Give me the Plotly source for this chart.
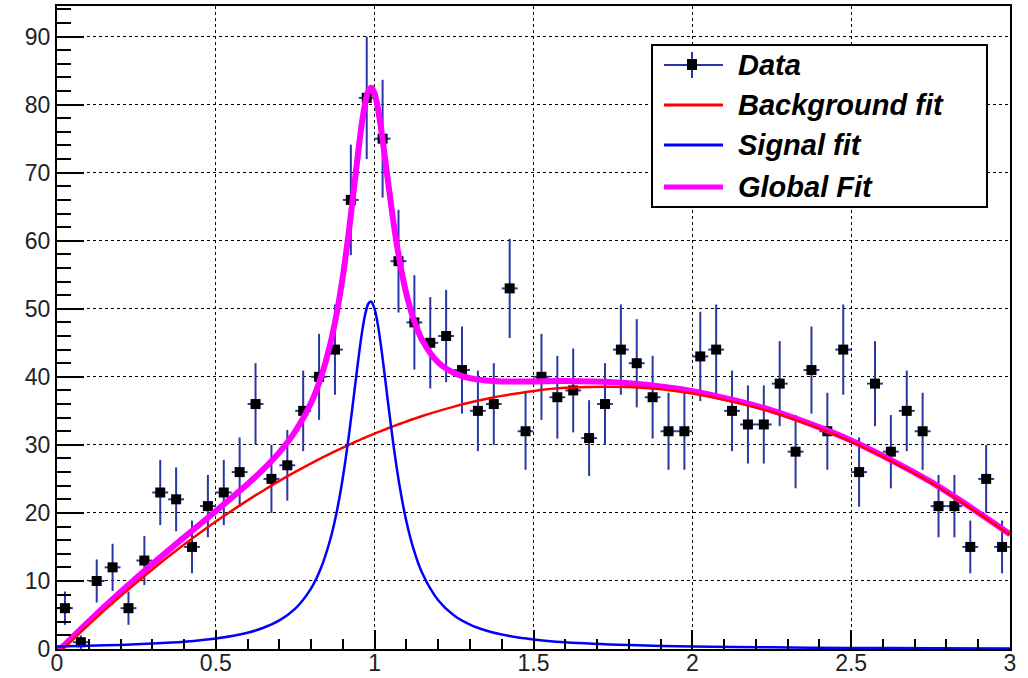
import plotly.graph_objects as go

# ---------------- data ----------------
bin_centers = [0.025 + 0.05 * i for i in range(60)]
counts = [6, 1, 10, 12, 6, 13, 23, 22, 15, 21,
          23, 26, 36, 25, 27, 35, 40, 44, 66, 81,
          75, 57, 48, 45, 46, 41, 35, 36, 53, 32,
          40, 37, 38, 31, 36, 44, 42, 37, 32, 32,
          43, 44, 35, 33, 33, 39, 29, 41, 32, 44,
          26, 39, 29, 35, 32, 21, 21, 15, 25, 15]
count_err = [c ** 0.5 for c in counts]
half_bin = [0.025] * 60

# fit curves
curve_x = [0, 0.1, 0.2, 0.3, 0.4, 0.5, 0.6, 0.65, 0.7, 0.75, 0.8, 0.83, 0.86, 0.88,
           0.90, 0.92, 0.94, 0.95, 0.96, 0.97, 0.98, 0.987, 0.99, 1.00, 1.01, 1.02,
           1.03, 1.04, 1.06, 1.08, 1.10, 1.12, 1.15, 1.2, 1.25, 1.3, 1.35, 1.4, 1.5,
           1.6, 1.8, 2.0, 2.25, 2.5, 2.75, 3.0]
background_fit = [-0.87, 3.59, 7.77, 11.69, 15.34, 18.73, 21.84, 23.30, 24.70, 26.02,
                  27.28, 28.01, 28.71, 29.16, 29.60, 30.03, 30.46, 30.66, 30.87, 31.07,
                  31.27, 31.40, 31.46, 31.66, 31.85, 32.03, 32.22, 32.40, 32.76, 33.11,
                  33.44, 33.77, 34.24, 34.96, 35.62, 36.22, 36.74, 37.20, 37.93, 38.38,
                  38.49, 37.54, 34.84, 30.49, 24.47, 16.78]
signal_fit = [0.38, 0.48, 0.60, 0.79, 1.07, 1.55, 2.40, 3.12, 4.21, 5.94,
              8.92, 11.79, 16.06, 20.04, 25.24, 31.79, 39.33, 43.10, 46.49, 49.16,
              50.74, 51.08, 51.02, 49.94, 47.67, 44.52, 40.86, 37.02, 29.69, 23.54,
              18.73, 15.06, 11.12, 7.16, 4.93, 3.59, 2.72, 2.12, 1.40, 0.99,
              0.57, 0.37, 0.24, 0.16, 0.12, 0.09]
global_fit = [-0.48, 4.06, 8.37, 12.48, 16.41, 20.27, 24.25, 26.43, 28.90, 31.97,
              36.20, 39.80, 44.77, 49.20, 54.84, 61.82, 69.79, 73.76, 77.36, 80.23,
              82.01, 82.48, 82.48, 81.60, 79.52, 76.55, 73.08, 69.42, 62.45, 56.65,
              52.17, 48.83, 45.36, 42.12, 40.56, 39.80, 39.46, 39.33, 39.32, 39.37,
              39.06, 37.90, 35.08, 30.65, 24.59, 16.87]

legend_labels = ["Data", "Background fit", "Signal fit", "Global Fit"]

# ---------------- styles ----------------
FONT = "Liberation Sans, Arial, Helvetica, sans-serif"
ERR_COLOR = "#2a36a6"
L, R, T, B = 57, 1010, 6, 649


def px(x):
    return (x - L) / (R - L)


def py(y):
    return (B - y) / (B - T)


fig = go.Figure()

fig.add_trace(go.Scatter(
    x=bin_centers, y=counts, mode="markers",
    marker=dict(symbol="square", size=10, color="black"),
    error_y=dict(type="data", array=count_err, color=ERR_COLOR, thickness=2, width=0),
    error_x=dict(type="data", array=half_bin, color=ERR_COLOR, thickness=2, width=0),
    name=legend_labels[0], showlegend=False))

fig.add_trace(go.Scatter(x=curve_x, y=global_fit, mode="lines",
                         line=dict(color="#ff00ff", width=6, shape="spline", smoothing=0.8),
                         name=legend_labels[3], showlegend=False))
fig.add_trace(go.Scatter(x=curve_x, y=background_fit, mode="lines",
                         line=dict(color="#ff0000", width=2.5, shape="spline", smoothing=0.8),
                         name=legend_labels[1], showlegend=False))
fig.add_trace(go.Scatter(x=curve_x, y=signal_fit, mode="lines",
                         line=dict(color="#0000ff", width=2.5, shape="spline", smoothing=0.8),
                         name=legend_labels[2], showlegend=False))

# ---------------- manual legend ----------------
shapes = [dict(type="rect", xref="paper", yref="paper",
               x0=px(652), x1=px(987), y0=py(207), y1=py(45),
               line=dict(color="black", width=2), fillcolor="white", layer="above")]
entry_y = [65, 105, 145, 187]
line_styles = [(ERR_COLOR, 2), ("#ff0000", 3), ("#0000ff", 3), ("#ff00ff", 5)]
for (col, w), yy in zip(line_styles, entry_y):
    shapes.append(dict(type="line", xref="paper", yref="paper",
                       x0=px(664), x1=px(723), y0=py(yy), y1=py(yy),
                       line=dict(color=col, width=w), layer="above"))
shapes.append(dict(type="line", xref="paper", yref="paper",
                   x0=px(692), x1=px(692), y0=py(52), y1=py(78),
                   line=dict(color=ERR_COLOR, width=2), layer="above"))
shapes.append(dict(type="rect", xref="paper", yref="paper",
                   x0=px(687), x1=px(697), y0=py(70), y1=py(59),
                   line=dict(color="black", width=0), fillcolor="black", layer="above"))

annotations = []
for lab, yy in zip(legend_labels, entry_y):
    annotations.append(dict(xref="paper", yref="paper", x=px(736), y=py(yy),
                            xanchor="left", yanchor="middle", text=lab, showarrow=False,
                            font=dict(family=FONT, size=29, color="black",
                                      weight="bold", style="italic")))

axis_common = dict(showline=True, mirror=True, linecolor="black", linewidth=2,
                   ticks="inside", tickcolor="black", tickwidth=1.5,
                   showgrid=True, gridcolor="black", griddash="dot", gridwidth=1,
                   zeroline=False, automargin=False,
                   tickfont=dict(family=FONT, size=23, color="#222222"))

fig.update_layout(
    width=1028, height=678,
    margin=dict(l=L, r=1028 - R, t=T, b=678 - B),
    paper_bgcolor="white", plot_bgcolor="white",
    shapes=shapes, annotations=annotations, showlegend=False,
    xaxis=dict(range=[0, 3], dtick=0.5, tick0=0, ticklen=19, ticklabelstandoff=-8,
               minor=dict(ticks="inside", ticklen=10, dtick=0.1, tickcolor="black",
                          tickwidth=1.5, showgrid=False),
               **axis_common),
    yaxis=dict(range=[0, 94.5], dtick=10, tick0=0, ticklen=27,
               minor=dict(ticks="inside", ticklen=14, dtick=2, tickcolor="black",
                          tickwidth=1.5, showgrid=False),
               **axis_common),
)

fig.write_html("out.html", config={"displayModeBar": False},
               post_script="document.body.style.margin='0';document.body.style.overflow='hidden';")
